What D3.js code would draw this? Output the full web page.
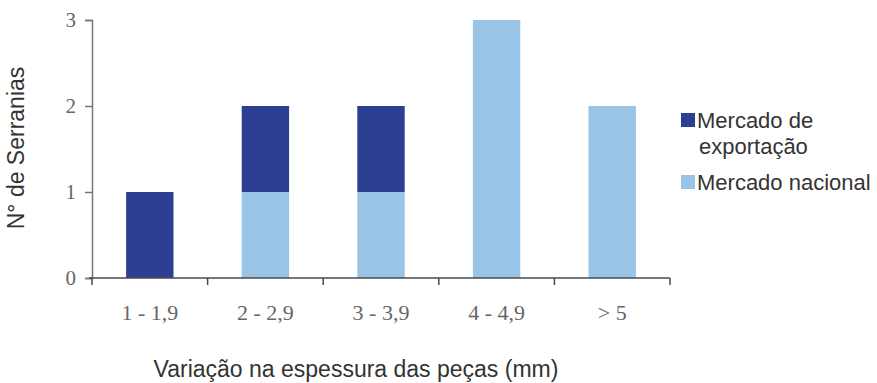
<!DOCTYPE html>
<html>
<head>
<meta charset="utf-8">
<script src="https://cdn.jsdelivr.net/npm/d3@7"></script>
<style>
  body { margin: 0; background: #fff; }
  svg { display: block; }
</style>
</head>
<body>
<svg id="chart" width="877" height="383"></svg>
<script>
const categories = ["1 - 1,9", "2 - 2,9", "3 - 3,9", "4 - 4,9", "> 5"];
const exportacao = [1, 1, 1, 0, 0];
const nacional = [0, 1, 1, 3, 2];
const yTicks = [0, 1, 2, 3];
const seriesNames = ["Mercado de exportação", "Mercado nacional"];
const colors = ["#2c3f92", "#99c4e6"];

const svg = d3.select("#chart");
const margin = { left: 92, right: 207, top: 20, bottom: 105 };
const W = 877, H = 383;
const x = d3.scaleBand().domain(categories).range([margin.left, W - margin.right]).paddingInner(0.59).paddingOuter(0.295);
const y = d3.scaleLinear().domain([0, 3]).range([H - margin.bottom, margin.top]);

const rows = categories.map((c, i) => ({ cat: c, nacional: nacional[i], exportacao: exportacao[i] }));
const stack = d3.stack().keys(["nacional", "exportacao"])(rows);
const colorByKey = { nacional: colors[1], exportacao: colors[0] };

svg.append("g").selectAll("g").data(stack).join("g")
  .attr("fill", d => colorByKey[d.key])
  .selectAll("rect").data(d => d).join("rect")
  .attr("x", d => x(d.data.cat))
  .attr("width", x.bandwidth())
  .attr("y", d => y(d[1]))
  .attr("height", d => y(d[0]) - y(d[1]));

// y axis
const yAxis = svg.append("g").attr("transform", `translate(${margin.left},0)`)
  .call(d3.axisLeft(y).tickValues(yTicks).tickSize(7).tickPadding(9).tickFormat(d3.format("d")));
yAxis.select(".domain").attr("stroke", "#777").attr("stroke-width", 1.5);
yAxis.selectAll(".tick line").attr("stroke", "#777").attr("stroke-width", 1.5);
yAxis.selectAll("text").attr("font-family", "Liberation Serif, serif").attr("font-size", 21).attr("fill", "#666");

// x axis with ticks at band boundaries
const xAxisG = svg.append("g").attr("transform", `translate(0,${y(0)})`);
xAxisG.append("line").attr("x1", margin.left - 3).attr("x2", W - margin.right)
  .attr("stroke", "#4a4a4a").attr("stroke-width", 1.5);
const step = x.step();
const boundaries = d3.range(categories.length + 1).map(i => margin.left + i * step);
xAxisG.selectAll("line.tk").data(boundaries).join("line").attr("class", "tk")
  .attr("x1", d => d).attr("x2", d => d).attr("y1", 0).attr("y2", 7)
  .attr("stroke", "#4a4a4a").attr("stroke-width", 1.5);
xAxisG.selectAll("text").data(categories).join("text")
  .attr("x", d => x(d) + x.bandwidth() / 2)
  .attr("y", 42)
  .attr("text-anchor", "middle")
  .attr("font-family", "Liberation Serif, serif").attr("font-size", 22).attr("fill", "#666")
  .text(d => d);

// axis titles
svg.append("text")
  .attr("x", 356).attr("y", 377)
  .attr("text-anchor", "middle")
  .attr("font-family", "Liberation Sans, Arial, sans-serif").attr("font-size", 23).attr("fill", "#333")
  .text("Variação na espessura das peças (mm)");
svg.append("text")
  .attr("transform", "translate(24,148) rotate(-90)")
  .attr("text-anchor", "middle")
  .attr("font-family", "Liberation Sans, Arial, sans-serif").attr("font-size", 23).attr("fill", "#333")
  .text("N° de Serranias");

// legend
const lg = svg.append("g");
const legendItems = [
  { color: colors[0], lines: ["Mercado de", "exportação"], y: 120 },
  { color: colors[1], lines: ["Mercado nacional"], y: 182 }
];
legendItems.forEach(it => {
  lg.append("rect").attr("x", 681).attr("y", it.y - 7).attr("width", 14).attr("height", 14).attr("fill", it.color);
  it.lines.forEach((t, j) => {
    lg.append("text").attr("x", 697 + (j > 0 ? 2 : 0)).attr("y", it.y + 8 + j * 26)
      .attr("font-family", "Liberation Sans, Arial, sans-serif").attr("font-size", 22).attr("fill", "#333")
      .text(t);
  });
});
</script>
</body>
</html>
